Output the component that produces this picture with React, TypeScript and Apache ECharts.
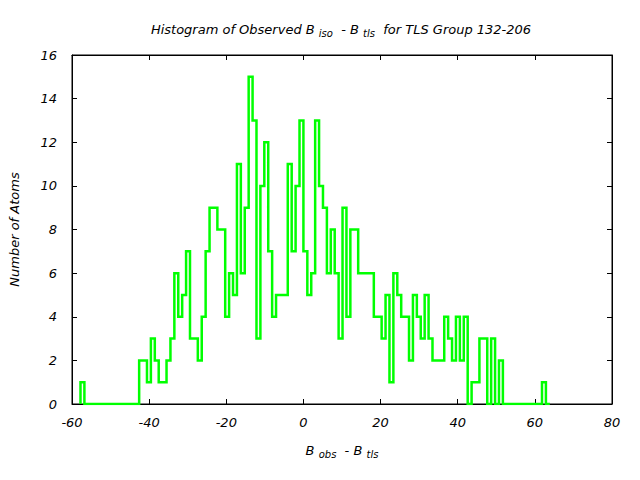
import React, { useEffect, useRef } from "react";
import * as echarts from "echarts";

// Histogram bins: first bin left edge and bin width (in B units)
const BIN_START = -57.8;
const BIN_WIDTH = 1.014;

// Number of atoms in each bin (120 bins)
const counts: number[] = [
  1, 0, 0, 0, 0, 0, 0, 0, 0, 0,
  0, 0, 0, 0, 0, 2, 2, 1, 3, 2,
  1, 1, 2, 3, 6, 4, 5, 7, 3, 3,
  2, 4, 7, 9, 9, 8, 8, 4, 6, 5,
  11, 6, 9, 15, 13, 3, 10, 12, 7, 4,
  5, 5, 5, 11, 7, 10, 13, 7, 5, 6,
  13, 10, 9, 6, 8, 6, 3, 9, 4, 8,
  8, 6, 6, 6, 6, 4, 4, 3, 5, 1,
  6, 5, 4, 4, 2, 5, 4, 3, 5, 3,
  2, 2, 2, 4, 3, 2, 4, 2, 4, 0,
  1, 1, 3, 3, 0, 3, 0, 2, 0, 0,
  0, 0, 0, 0, 0, 0, 0, 0, 1, 0,
];

const xTicks = { min: -60, max: 80, interval: 20 };
const yTicks = { min: 0, max: 16, interval: 2 };

const FONT = "'DejaVu Sans', sans-serif";

export default function App() {
  const ref = useRef<HTMLDivElement>(null);

  useEffect(() => {
    if (!ref.current) return;
    const chart = echarts.init(ref.current, undefined, { renderer: "svg" });

    const pts: [number, number][] = [[BIN_START, 0]];
    counts.forEach((c, k) => pts.push([BIN_START + k * BIN_WIDTH, c]));
    pts.push([BIN_START + counts.length * BIN_WIDTH, 0]);

    const labelStyle = {
      fontFamily: FONT,
      fontStyle: "italic" as const,
      fontSize: 13,
      color: "#000",
    };
    const sub = {
      fontFamily: FONT,
      fontStyle: "italic" as const,
      fontSize: 10,
      lineHeight: 8,
      verticalAlign: "bottom" as const,
      color: "#000",
    };
    const axisCommon = {
      type: "value" as const,
      axisLine: { show: true, onZero: false, lineStyle: { color: "#000", width: 1 } },
      axisTick: { show: true, inside: true, length: 5, lineStyle: { color: "#000" } },
      splitLine: { show: false },
    };

    chart.setOption({
      animation: false,
      backgroundColor: "#fff",
      title: {
        text: "Histogram of Observed B {sub|iso}  - B {sub|tls}  for TLS Group 132-206",
        left: 336,
        textAlign: "center",
        top: 16,
        textStyle: {
          ...labelStyle,
          fontWeight: "normal",
          lineHeight: 17,
          rich: { sub },
        },
      },
      grid: {
        left: 70,
        right: 28,
        top: 55,
        bottom: 76,
        show: true,
        borderColor: "#000",
        borderWidth: 1,
        containLabel: false,
      },
      xAxis: [
        {
          ...axisCommon,
          ...xTicks,
          position: "bottom",
          axisLabel: { ...labelStyle, margin: 12 },
          name: "B {sub|obs}  - B {sub|tls}",
          nameLocation: "middle",
          nameGap: 38,
          nameTextStyle: { ...labelStyle, lineHeight: 17, rich: { sub } },
        },
        {
          ...axisCommon,
          ...xTicks,
          position: "top",
          axisLabel: { show: false },
        },
      ],
      yAxis: [
        {
          ...axisCommon,
          ...yTicks,
          position: "left",
          axisLabel: { ...labelStyle, margin: 15 },
          name: "Number of Atoms",
          nameLocation: "middle",
          nameGap: 51,
          nameTextStyle: { ...labelStyle },
        },
        {
          ...axisCommon,
          ...yTicks,
          position: "right",
          axisLabel: { show: false },
        },
      ],
      series: [
        {
          type: "line",
          xAxisIndex: 0,
          yAxisIndex: 0,
          data: pts,
          step: "end",
          showSymbol: false,
          symbol: "none",
          lineStyle: { color: "#00ff00", width: 2.5, join: "miter", cap: "butt" },
          clip: true,
        },
      ],
    });

    return () => chart.dispose();
  }, []);

  return <div ref={ref} style={{ width: 640, height: 480, position: "absolute", left: 0, top: 0 }} />;
}
